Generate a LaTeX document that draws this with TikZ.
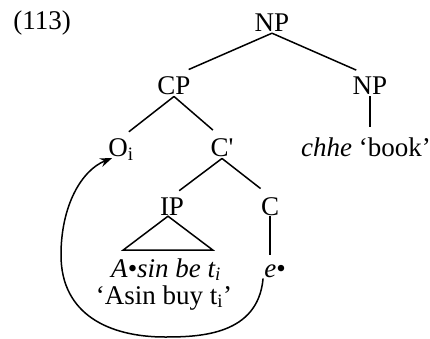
\documentclass[tikz,border=0pt]{standalone}
\usepackage{fontspec}
\setmainfont{Liberation Serif}
\usetikzlibrary{arrows.meta}
\begin{document}
\begin{tikzpicture}[x=1pt,y=-1pt, font=\fontsize{27}{32}\selectfont,
  lbl/.style={inner sep=1pt, anchor=base},
  edge/.style={line width=1.5pt},
]
\useasboundingbox (0,0) rectangle (430,339);
\node[lbl] (ex) at (42,30) {(113)};
\node[lbl] (np) at (272,32) {NP};
\node[lbl] (cp) at (174,95) {CP};
\node[lbl] (np2) at (370,95) {NP};
\node[lbl] (oi) at (121,157) {O\textsubscript{i}};
\node[lbl] (c1) at (222,157) {C\textquotesingle};
\node[lbl] (chhe) at (366,157) {\textit{chhe} `book'};
\node[lbl] (ip) at (172,215) {IP};
\node[lbl] (c) at (270,215) {C};
\node[lbl] (asin) at (166,277) {\textit{A•sin be t\textsubscript{i}}};
\node[lbl] (gloss) at (164,304) {`Asin buy t\textsubscript{i}'};
\node[lbl] (e) at (275,277) {\textit{e}•};

\draw[edge, shorten >=16pt] (np.south) -- (cp.north);
\draw[edge, shorten >=15pt] (np.south) -- (np2.north);
\draw[edge, shorten >=10pt] (cp.south) -- (oi.north);
\draw[edge, shorten >=12pt] (cp.south) -- (c1.north);
\draw[edge, shorten >=9pt] (c1.south) -- (ip.north);
\draw[edge, shorten >=12pt] (c1.south) -- (c.north);
\draw[edge, shorten >=10pt] (np2.south) -- (np2.south |- chhe.north);
\draw[edge, shorten >=8pt] (c.south) -- (c.south |- e.north);
\draw[edge, line join=miter] ([xshift=-4pt]ip.south) -- ++(-45,34) -- ++(90,0) -- cycle;
\draw[edge, -{Stealth[length=12pt,width=9pt]}] (e.south west)
  .. controls (258,335) and (200,337) .. (165,337)
  .. controls (110,337) and (61,315) .. (61,255)
  .. controls (61,205) and (82,170) .. ([xshift=-9pt,yshift=4pt]oi.south);
\end{tikzpicture}
\end{document}
